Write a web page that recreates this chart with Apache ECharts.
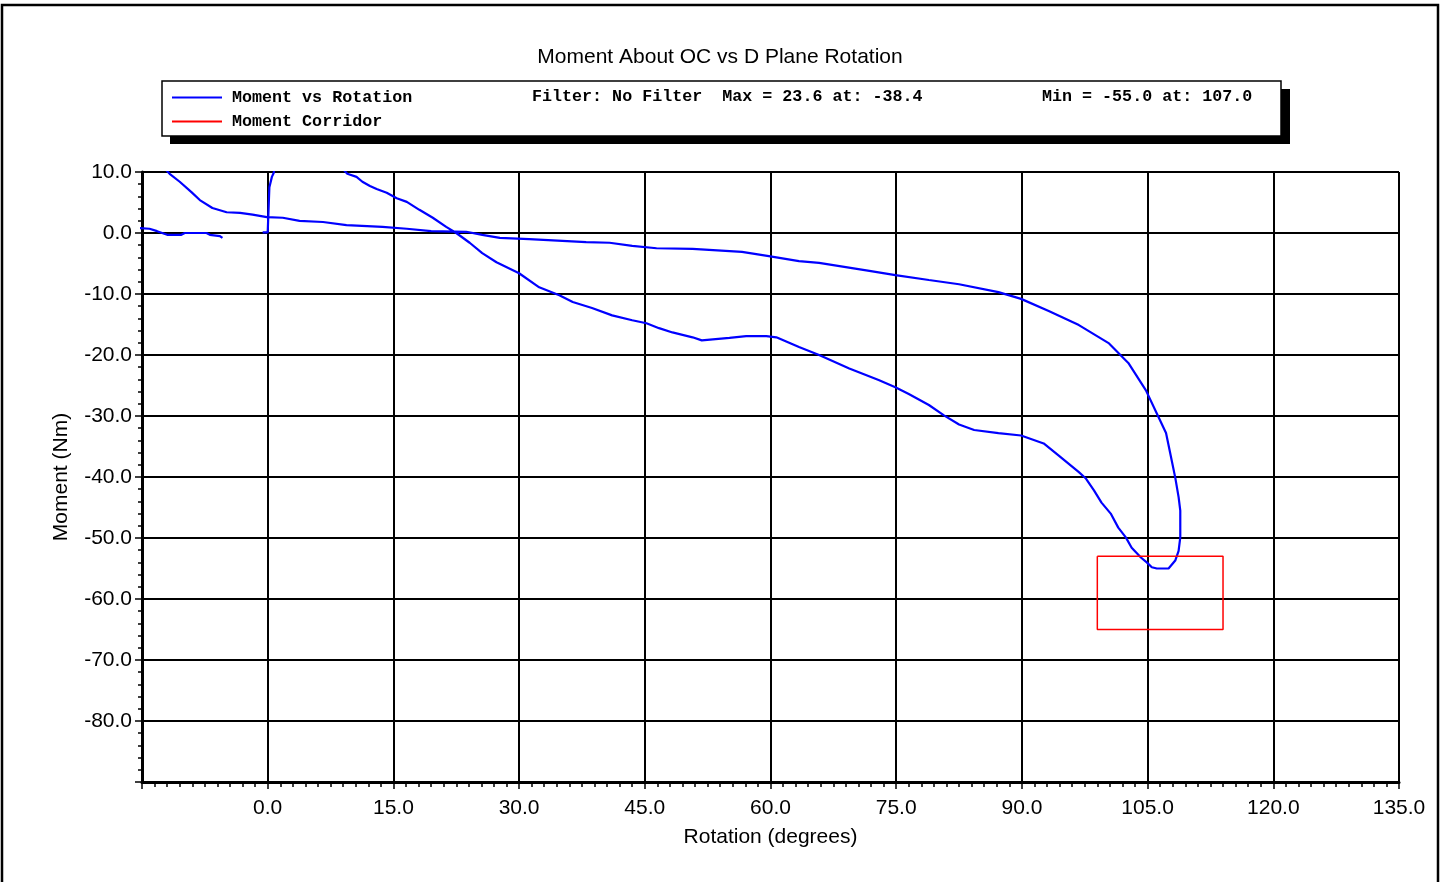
<!DOCTYPE html>
<html>
<head>
<meta charset="utf-8">
<script src="https://cdn.jsdelivr.net/npm/echarts/dist/echarts.min.js"></script>
<style>
    * {
        margin: 0;
        padding: 0;
    }
    body {
        background: #fff;
    }
    #main {
        width: 1440px;
        height: 882px;
    }
</style>
</head>
<body>
<div id="main"></div>
<script>
    // short piece at the left edge
    let rotA = [-17.0, -15.3, -14.1, -13.2, -12.0, -10.3, -9.9, -7.3, -6.9, -5.7, -5.4]
    let momA = [1.2, 0.8, 0.7, 0.3, -0.3, -0.3, 0.0, 0.0, -0.3, -0.5, -0.8]
    // spike at zero rotation
    let rotB = [-0.6, 0.0, 0.1, 0.2, 0.5, 0.7, 0.9]
    let momB = [0.1, 0.1, 3.8, 7.5, 9.2, 9.8, 11.0]
    // main loading / unloading loop (starts at the max, off the plot)
    let rotLoop = [-38.4, -20.0, -13.5, -11.7, -10.5, -9.1, -8.1, -6.6, -4.9, -3.3, -1.8, -0.1, 1.8, 3.8, 6.6, 9.4, 13.7, 16.6,
        19.5, 23.7, 25.6, 27.7, 31.2, 38.0, 40.8, 43.5, 46.4, 50.7, 56.6, 59.8, 63.4, 65.8, 71.8, 74.9, 78.9, 82.5, 87.2, 89.9,
        93.2, 96.8, 100.4, 102.7, 104.8, 106.1, 107.2, 107.7, 108.3, 108.7, 108.9, 108.9, 108.7, 108.3, 107.5, 106.1, 105.5,
        104.9, 104.2, 103.1, 102.4, 101.5, 100.6, 99.5, 98.6, 97.6, 96.8, 94.4, 92.6, 89.9, 87.2, 84.3, 82.5, 80.7, 78.9, 76.5,
        74.9, 72.9, 69.4, 65.8, 63.4, 60.7, 59.5, 57.1, 55.1, 51.8, 50.7, 49.5, 48.3, 46.7, 45.2, 43.5, 41.1, 38.7, 36.4, 34.8,
        32.4, 30.0, 27.3, 25.6, 24.1, 22.5, 21.3, 19.7, 18.1, 16.6, 15.4, 14.2, 13.0, 12.2, 11.3, 10.6, 9.5, 8.3, 6.0]
    let momLoop = [23.6, 16.5, 12.4, 9.7, 8.4, 6.7, 5.4, 4.1, 3.4, 3.3, 3.0, 2.6, 2.5, 2.0, 1.8, 1.3, 1.0, 0.7,
        0.3, 0.2, -0.3, -0.8, -1.0, -1.5, -1.6, -2.1, -2.5, -2.6, -3.1, -3.8, -4.6, -4.9, -6.2, -6.9, -7.7, -8.4, -9.7, -10.8,
        -12.8, -15.1, -18.1, -21.3, -25.8, -29.6, -32.8, -36.1, -40.1, -43.3, -45.5, -49.9, -52.1, -53.7, -55.0, -55.0, -54.8,
        -54.0, -53.2, -51.6, -49.9, -48.3, -46.0, -44.2, -42.2, -40.2, -39.2, -36.5, -34.5, -33.2, -32.8, -32.3, -31.4, -29.9, -28.2, -26.4,
        -25.3, -24.1, -22.2, -20.0, -18.7, -17.1, -16.9, -16.9, -17.2, -17.6, -17.1, -16.7, -16.3, -15.6, -14.8, -14.3, -13.5, -12.3, -11.3, -10.2,
        -8.9, -6.6, -4.8, -3.3, -1.6, 0.0, 1.0, 2.5, 3.8, 5.1, 5.7, 6.6, 7.2, 7.7, 8.4, 9.2, 9.7, 11.5, 13.5]
    // corridor box
    let corridorRot = [99, 114, 114, 99, 99]
    let corridorMom = [-53, -53, -65, -65, -53]

    let xTicks = {min: -15, max: 135, interval: 15}
    let yTicks = {min: -90, max: 10, interval: 10}

    function pairs(xs, ys) {
        return xs.map(function (x, i) {
            return [x, ys[i]]
        })
    }

    let font = 'Liberation Sans, Arial, sans-serif'
    let mono = 'Liberation Mono, Courier New, monospace'

    let blueLine = function (data) {
        return {
            name: 'Moment vs Rotation',
            type: 'line',
            data: data,
            showSymbol: false,
            symbol: 'none',
            clip: true,
            color: '#0000ff',
            lineStyle: {color: '#0000ff', width: 2.2},
            animation: false
        }
    }

    let myChart = echarts.init(document.getElementById('main'))
    let option = {
        backgroundColor: '#fff',
        animation: false,
        title: {
            text: 'Moment About OC vs D Plane Rotation',
            left: 'center',
            top: 42,
            textStyle: {
                color: '#000',
                fontFamily: font,
                fontSize: 21,
                fontWeight: 'normal'
            }
        },
        legend: {
            orient: 'vertical',
            left: 167,
            top: 84,
            itemGap: 7,
            itemWidth: 50,
            itemHeight: 2,
            icon: 'rect',
            selectedMode: false,
            data: ['Moment vs Rotation', 'Moment Corridor'],
            textStyle: {
                color: '#000',
                fontFamily: mono,
                fontWeight: 'bold',
                fontSize: 16.7,
                padding: [0, 0, 0, 5]
            },
            z: 10
        },
        graphic: [
            {
                type: 'rect',
                z: -10,
                shape: {x: 2, y: 5, width: 1436, height: 900},
                style: {fill: 'none', stroke: '#000', lineWidth: 2.5}
            },
            {
                type: 'rect',
                z: 1,
                shape: {x: 170, y: 89, width: 1120, height: 55},
                style: {fill: '#000'}
            },
            {
                type: 'rect',
                z: 2,
                shape: {x: 162, y: 81, width: 1119, height: 55},
                style: {fill: '#fff', stroke: '#000', lineWidth: 1.5}
            },
            {
                type: 'text',
                z: 3,
                left: 532,
                top: 88,
                style: {
                    text: 'Filter: No Filter  Max = 23.6 at: -38.4',
                    fill: '#000',
                    font: 'bold 16.7px ' + mono
                }
            },
            {
                type: 'text',
                z: 3,
                left: 1042,
                top: 88,
                style: {
                    text: 'Min = -55.0 at: 107.0',
                    fill: '#000',
                    font: 'bold 16.7px ' + mono
                }
            }
        ],
        grid: {
            left: 142,
            right: 41,
            top: 172,
            bottom: 100
        },
        xAxis: {
            type: 'value',
            min: xTicks.min,
            max: xTicks.max,
            interval: xTicks.interval,
            name: 'Rotation (degrees)',
            nameLocation: 'middle',
            nameGap: 45,
            nameTextStyle: {color: '#000', fontFamily: font, fontSize: 21},
            axisLine: {onZero: false, lineStyle: {color: '#000', width: 3}},
            axisTick: {show: true, length: 7, lineStyle: {color: '#000', width: 1.5}},
            minorTick: {show: true, splitNumber: 10, length: 5, lineStyle: {color: '#000', width: 1.5}},
            splitLine: {show: true, lineStyle: {color: '#000', width: 2}},
            axisLabel: {
                color: '#000',
                fontFamily: font,
                fontSize: 21,
                margin: 16,
                formatter: function (v) {
                    return v === xTicks.min ? '' : v.toFixed(1)
                }
            }
        },
        yAxis: {
            type: 'value',
            min: yTicks.min,
            max: yTicks.max,
            interval: yTicks.interval,
            name: 'Moment (Nm)',
            nameLocation: 'middle',
            nameRotate: 90,
            nameGap: 70,
            nameTextStyle: {color: '#000', fontFamily: font, fontSize: 21},
            axisLine: {show: true, onZero: false, lineStyle: {color: '#000', width: 3}},
            axisTick: {show: true, length: 7, lineStyle: {color: '#000', width: 1.5}},
            minorTick: {show: true, splitNumber: 5, length: 4, lineStyle: {color: '#000', width: 1.5}},
            splitLine: {show: true, lineStyle: {color: '#000', width: 2}},
            axisLabel: {
                color: '#000',
                fontFamily: font,
                fontSize: 21,
                margin: 10,
                formatter: function (v) {
                    return v === yTicks.min ? '' : v.toFixed(1)
                }
            }
        },
        series: [
            blueLine(pairs(rotA, momA)),
            blueLine(pairs(rotB, momB)),
            blueLine(pairs(rotLoop, momLoop)),
            {
                name: 'Moment Corridor',
                type: 'line',
                data: pairs(corridorRot, corridorMom),
                showSymbol: false,
                symbol: 'none',
                color: '#ff0000',
                lineStyle: {color: '#ff0000', width: 1.5},
                animation: false
            }
        ]
    }
    myChart.setOption(option)
</script>
</body>
</html>
